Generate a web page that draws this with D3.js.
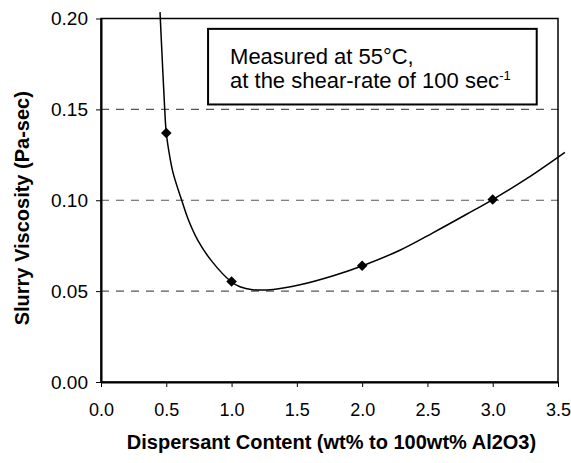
<!DOCTYPE html>
<html>
<head>
<meta charset="utf-8">
<script src="https://cdn.jsdelivr.net/npm/d3@7"></script>
<style>
  body { margin: 0; background: #fff; }
  svg { display: block; }
  text { font-family: "Liberation Sans", Arial, Helvetica, sans-serif; fill: #000; }
</style>
</head>
<body>
<div id="chart"></div>
<script>
// tick values
const xTicks = [0, 0.5, 1.0, 1.5, 2.0, 2.5, 3.0, 3.5];
const yTicks = [0, 0.05, 0.10, 0.15, 0.20];
const gridLevels = [0.05, 0.10, 0.15];

// measured points
const dispersant = [0.5, 1.0, 2.0, 3.0];
const viscosity = [0.137, 0.0553, 0.064, 0.1004];

// fitted curve
const fitX = [0.452, 0.472, 0.488, 0.500, 0.528, 0.554, 0.618, 0.669, 0.745, 0.848,
  0.995, 1.064, 1.16, 1.32, 1.524, 1.779, 2.004, 2.289, 2.545, 2.80, 3.0, 3.26, 3.553];
const fitY = [0.2035, 0.173, 0.150, 0.137, 0.1235, 0.1145, 0.100, 0.0893, 0.0775, 0.0665,
  0.0553, 0.0524, 0.0508, 0.0509, 0.0535, 0.0585, 0.064, 0.0725, 0.0822, 0.0923, 0.1004, 0.1119, 0.1264];

const width = 571, height = 463;
const margin = {left: 101, right: 13, top: 18.5, bottom: 81};

const svg = d3.select("#chart").append("svg")
  .attr("width", width)
  .attr("height", height);

const x = d3.scaleLinear().domain([0, 3.5]).range([margin.left, width - margin.right]);
const y = d3.scaleLinear().domain([0, 0.20]).range([height - margin.bottom, margin.top]);

// dashed grid
svg.append("g")
  .selectAll("line")
  .data(gridLevels)
  .join("line")
    .attr("x1", x(0)).attr("x2", x(3.5))
    .attr("y1", d => y(d)).attr("y2", d => y(d))
    .attr("stroke", "#555")
    .attr("stroke-width", 1.2)
    .attr("stroke-dasharray", "8,7");

// frame (top + right)
svg.append("rect")
  .attr("x", x(0)).attr("y", y(0.20))
  .attr("width", x(3.5) - x(0)).attr("height", y(0) - y(0.20))
  .attr("fill", "none")
  .attr("stroke", "#000")
  .attr("stroke-width", 1.5);

// x axis
const xAxis = svg.append("g")
  .attr("transform", `translate(0, ${y(0)})`)
  .call(d3.axisBottom(x).tickValues(xTicks).tickFormat(d3.format(".1f")).tickSizeOuter(0).tickSizeInner(5).tickPadding(16));
xAxis.select(".domain").attr("stroke-width", 2);
xAxis.selectAll("text").attr("font-size", 18).attr("font-family", "Liberation Sans, Arial, sans-serif");

// y axis
const yAxis = svg.append("g")
  .attr("transform", `translate(${x(0)}, 0)`)
  .call(d3.axisLeft(y).tickValues(yTicks).tickFormat(d3.format(".2f")).tickSizeOuter(0).tickSizeInner(5).tickPadding(8));
yAxis.select(".domain").attr("stroke-width", 2);
yAxis.selectAll("text").attr("font-size", 19).attr("font-family", "Liberation Sans, Arial, sans-serif");

// fitted curve
const fit = fitX.map((v, i) => [v, fitY[i]]);
svg.append("path")
  .datum(fit)
  .attr("fill", "none")
  .attr("stroke", "#000")
  .attr("stroke-width", 1.5)
  .attr("d", d3.line().x(d => x(d[0])).y(d => y(d[1])).curve(d3.curveCatmullRom.alpha(0.5)));

// diamonds
const pts = dispersant.map((v, i) => [v, viscosity[i]]);
svg.append("g")
  .selectAll("path")
  .data(pts)
  .join("path")
    .attr("d", d3.symbol(d3.symbolSquare, 56))
    .attr("transform", d => `translate(${x(d[0])}, ${y(d[1])}) rotate(45)`)
    .attr("fill", "#000");

// annotation box
const bx0 = x(0.82), bx1 = x(3.337), by0 = y(0.1943), by1 = y(0.1527);
svg.append("rect")
  .attr("x", bx0).attr("y", by0)
  .attr("width", bx1 - bx0).attr("height", by1 - by0)
  .attr("fill", "#fff")
  .attr("stroke", "#000")
  .attr("stroke-width", 2);

const note = svg.append("text")
  .attr("x", bx0 + 22)
  .attr("font-size", 22);
note.append("tspan").attr("x", bx0 + 22).attr("y", by0 + 35).text("Measured at 55°C,");
note.append("tspan").attr("x", bx0 + 22).attr("y", by0 + 59).text("at the shear-rate of 100 sec");
note.append("tspan").attr("font-size", 13).attr("dy", -8).text("-1");

// axis titles
svg.append("text")
  .attr("x", (x(0) + x(3.5)) / 2 + 2)
  .attr("y", 449)
  .attr("text-anchor", "middle")
  .attr("font-size", 20)
  .attr("font-weight", "bold")
  .text("Dispersant Content (wt% to 100wt% Al2O3)");

svg.append("text")
  .attr("transform", `translate(29, ${(y(0) + y(0.20)) / 2 + 8}) rotate(-90)`)
  .attr("text-anchor", "middle")
  .attr("font-size", 20)
  .attr("font-weight", "bold")
  .text("Slurry Viscosity (Pa-sec)");
</script>
</body>
</html>
